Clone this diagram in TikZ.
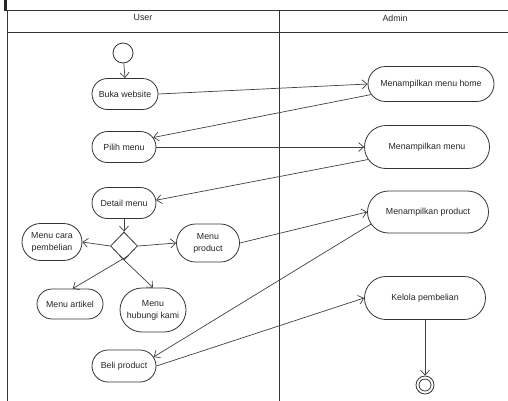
\documentclass[tikz,border=0pt]{standalone}
\usepackage{fontspec}
\setmainfont{Liberation Sans}
\usetikzlibrary{shapes.misc,shapes.geometric,arrows.meta,calc}
\begin{document}
\begin{tikzpicture}[x=1pt,y=-1pt,
  line width=0.8pt,
  every node/.style={font=\fontsize{8.8}{12}\selectfont, text=black!85},
  act/.style={rounded rectangle, draw=black!80, line width=0.8pt, align=center, inner sep=1pt},
  flow/.style={draw=black!75, line width=0.7pt, -{Straight Barb[length=5pt,width=9pt]}},
  lane/.style={draw=black!80, line width=0.8pt}]
\useasboundingbox (0,0) rectangle (508,400);
\fill[black!85] (3.5,0) rectangle (6.5,11);
% swimlanes
\draw[lane] (7,404) -- (7,10) -- (512,10);
\draw[lane] (7,32) -- (512,32);
\draw[lane] (279,10) -- (279,404);
\node (lu) at (143,18) {User};
\node (la) at (395,18) {Admin};
% nodes
\node[circle, draw=black!80, minimum size=20pt, inner sep=0pt] (start) at (123,53) {};
\node[act, minimum width=68pt, minimum height=31pt] (buka) at (125,94) {Buka website};
\node[act, minimum width=128pt, minimum height=35pt] (home) at (431,84) {Menampilkan menu home};
\node[act, minimum width=66pt, minimum height=31pt] (pilih) at (124,147) {Pilih menu};
\node[act, minimum width=127pt, minimum height=43pt] (mmenu) at (427,147) {Menampilkan menu};
\node[act, minimum width=66pt, minimum height=31pt] (detail) at (124,203) {Detail menu};
\node[diamond, draw=black!80, minimum width=27pt, minimum height=28pt, inner sep=0pt] (dia) at (124,246) {};
\node[act, minimum width=62pt, minimum height=37pt] (cara) at (52,242) {Menu cara\\pembelian};
\node[act, minimum width=65pt, minimum height=38pt] (mprod) at (208,243) {Menu\\product};
\node[act, minimum width=123pt, minimum height=42pt] (tprod) at (428,212) {Menampilkan product};
\node[act, minimum width=68pt, minimum height=30pt] (artikel) at (70,304) {Menu artikel};
\node[act, minimum width=68pt, minimum height=44pt] (hubungi) at (153,310) {Menu\\hubungi kami};
\node[act, minimum width=66pt, minimum height=32pt] (beli) at (124,366) {Beli product};
\node[act, minimum width=123pt, minimum height=43pt] (kelola) at (425,298) {Kelola pembelian};
\node[circle, draw=black!80, minimum size=18pt, inner sep=0pt] (end) at (425,385) {};
\node[circle, draw=black!80, minimum size=12pt, inner sep=0pt] (endin) at (end) {};
% connectors
\draw[flow] (start) -- (buka.north);
\draw[flow] (buka.east) -- (home.west);
\draw[flow] (home.190) -- (pilih.18);
\draw[flow] (pilih.east) -- (mmenu.west);
\draw[flow] (mmenu.192) -- (detail.5);
\draw[flow] (detail.south) -- (dia.north);
\draw[flow] (dia.west) -- (cara.east);
\draw[flow] (dia.east) -- (mprod.west);
\draw[flow] ($(dia.south)!0.35!(dia.east)$) -- (artikel.80);
\draw[flow] ($(dia.south)!0.35!(dia.west)$) -- (hubungi.north);
\draw[flow] (mprod.east) -- (tprod.west);
\draw[flow] (tprod.192) -- (beli.17);
\draw[flow] (beli.east) -- (kelola.west);
\draw[flow] (kelola.south) -- (end.north);
\end{tikzpicture}
\end{document}
